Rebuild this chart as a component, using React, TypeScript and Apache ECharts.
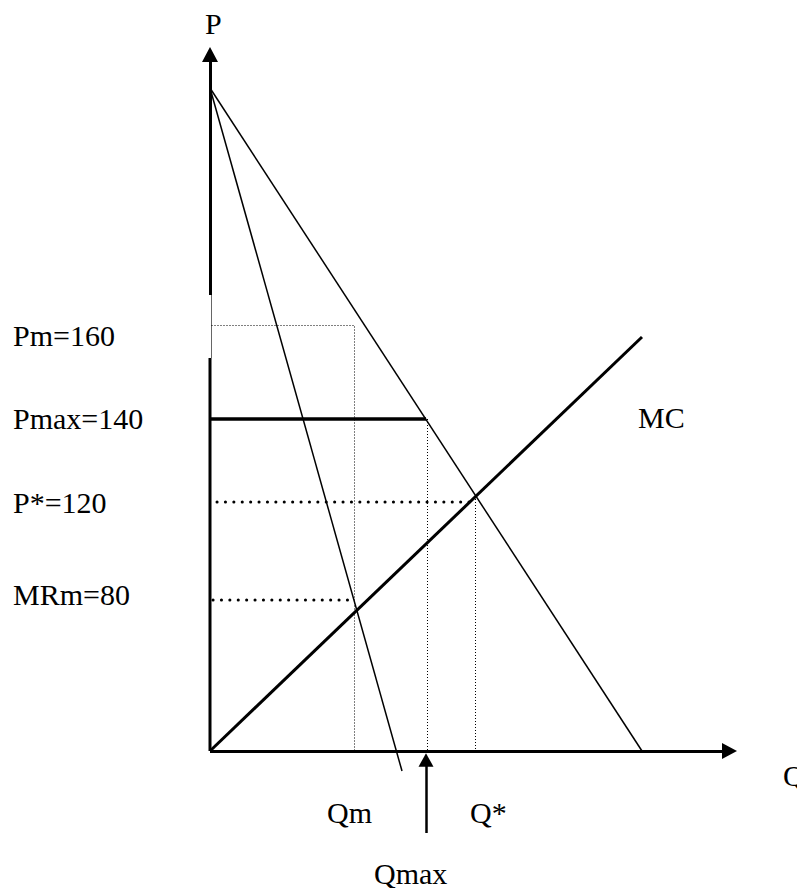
import React, { useEffect, useRef } from "react";
import * as echarts from "echarts";

// Diagram units: 1 unit = 1 px, origin at the corner of the two axes, P upwards.
const demand = [[0, 663], [432, 0]];
const marginalRevenue = [[0, 663], [192, -20]];
const marginalCost = [[0, 0], [432, 414]];
const pmGuide = [[1.5, 425.5], [144.5, 425.5], [144.5, 0]];
const pmaxCeiling = [[0, 332], [216, 332]];
const pmaxDrop = [[217.5, 332], [217.5, 0]];
const pStarGuide = [[7, 249], [262, 249]];
const pStarDrop = [[265.5, 255], [265.5, 0]];
const mrGuide = [[3, 151], [143, 151]];
const pAxisLower = [[0, 0], [0, 393]];
const pAxisGap = [[1.5, 393], [1.5, 456]];
const pAxisUpper = [[0, 456], [0, 696.5]];
const qAxis = [[0, 0], [519.5, 0]];
const qmaxPointer = [[216, -82], [216, -9]];

const priceLabels = ["Pm=160", "Pmax=140", "P*=120", "MRm=80"];
const quantityLabels = ["Qm", "Q*", "Qmax"];
const axisNames = ["P", "Q"];
const curveNames = ["MC"];

function plain(data: number[][], width: number, extra: any = {}) {
  return {
    type: "line",
    data,
    symbol: "none",
    clip: false,
    silent: true,
    lineStyle: { color: "#000", width, ...extra },
  };
}

function arrow(data: number[][], width: number, size: number[]) {
  return {
    type: "line",
    data: [],
    symbol: "none",
    silent: true,
    markLine: {
      silent: true,
      symbol: ["none", "triangle"],
      symbolSize: size,
      label: { show: false },
      emphasis: { disabled: true },
      lineStyle: { color: "#000", width, type: "solid", opacity: 1 },
      itemStyle: { color: "#000" },
      data: [[{ coord: data[0] }, { coord: data[1] }]],
    },
  };
}

function label(text: string, x: number, y: number) {
  return {
    type: "text",
    x,
    y,
    silent: true,
    style: {
      text,
      fontFamily: '"Liberation Serif", "Times New Roman", serif',
      fontSize: 30,
      fontWeight: "normal",
      fill: "#000",
      align: "left",
      verticalAlign: "middle",
      textAlign: "left",
      textVerticalAlign: "middle",
    },
  };
}

export default function App() {
  const ref = useRef<HTMLDivElement>(null);
  useEffect(() => {
    if (!ref.current) return;
    const chart = echarts.init(ref.current, null, { renderer: "svg" });
    const dotted = { type: [1, 2] };
    const roundDots = { type: [0.1, 8.3], cap: "round" };
    chart.setOption({
      animation: false,
      backgroundColor: "#fff",
      textStyle: { fontFamily: '"Liberation Serif", serif' },
      grid: { left: 0, right: 0, top: 0, bottom: 0 },
      xAxis: { type: "value", min: -210, max: 587, show: false },
      yAxis: { type: "value", min: -137, max: 751, show: false },
      series: [
        plain(pAxisLower, 3),
        plain(pAxisGap, 1, { color: "#666" }),
        arrow(pAxisUpper, 3, [16, 15]),
        arrow(qAxis, 3, [16, 15]),
        arrow(qmaxPointer, 2.5, [15, 13.5]),
        plain(demand, 1.5),
        plain(marginalRevenue, 1.5),
        plain(marginalCost, 3),
        plain(pmGuide, 1, dotted),
        plain(pmaxCeiling, 3.3),
        plain(pmaxDrop, 1, dotted),
        plain(pStarGuide, 3, roundDots),
        plain(pStarDrop, 1, dotted),
        plain(mrGuide, 3, roundDots),
      ],
      graphic: [
        label(axisNames[0], 205, 23),
        label(axisNames[1], 783, 775),
        label(priceLabels[0], 13, 335.5),
        label(priceLabels[1], 13, 418),
        label(priceLabels[2], 13, 502.5),
        label(priceLabels[3], 13, 594),
        label(curveNames[0], 638, 417.5),
        label(quantityLabels[0], 327, 812),
        label(quantityLabels[1], 470, 812),
        label(quantityLabels[2], 374, 873),
      ],
    });
    return () => chart.dispose();
  }, []);
  return (
    <div
      ref={ref}
      style={{ position: "absolute", left: 0, top: 0, width: 797, height: 888 }}
    />
  );
}
